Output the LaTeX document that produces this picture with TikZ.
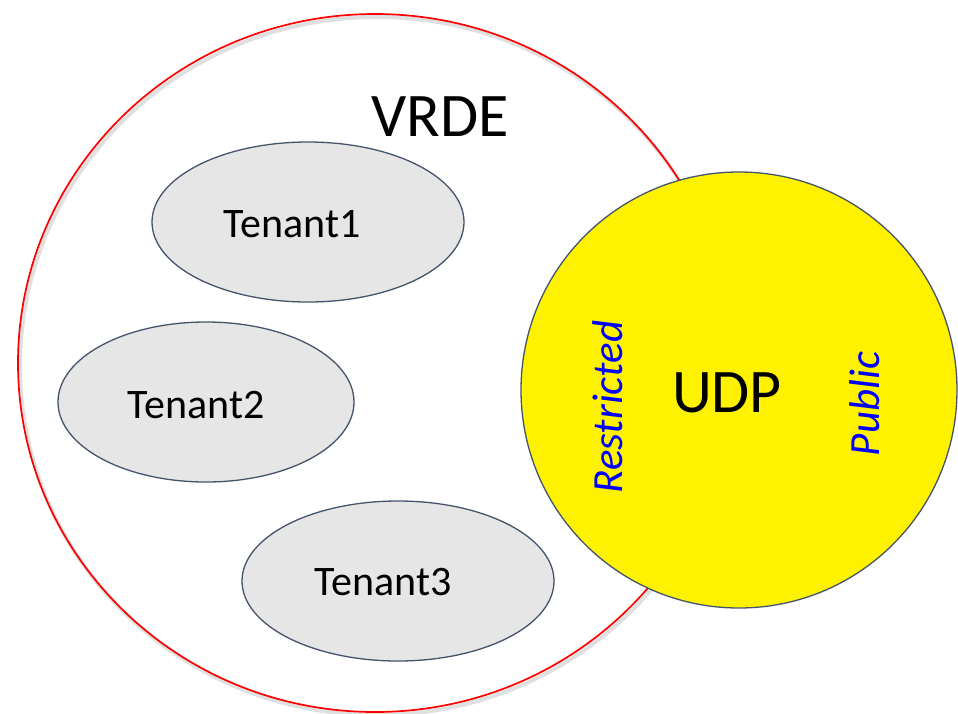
\documentclass[tikz,border=0pt]{standalone}
\usepackage{fontspec}
\setmainfont{Carlito}
\definecolor{edge}{HTML}{44546A}
\definecolor{tfill}{HTML}{E7E6E6}
\begin{document}
\begin{tikzpicture}[x=1pt,y=-1pt,
  tenant/.style={draw=edge, line width=1.3pt, fill=tfill},
  lbl/.style={font=\fontsize{42}{48}\selectfont},
  big/.style={font=\fontsize{62}{68}\selectfont},
  side/.style={font=\fontsize{43}{48}\selectfont\itshape, text=blue, rotate=90}]
\useasboundingbox (0,0) rectangle (958,713);
\fill[white] (0,0) rectangle (958,713);
\draw[black!12, line width=4pt] (377,366) ellipse [x radius=357, y radius=349];
\draw[red, line width=1.7pt] (375,363) ellipse [x radius=357, y radius=349];
\draw[tenant] (308,222) ellipse [x radius=156, y radius=80];
\draw[tenant] (206,402) ellipse [x radius=148, y radius=80];
\draw[tenant] (398,581) ellipse [x radius=156, y radius=80];
\draw[edge, line width=1.3pt, fill=yellow] (739,390) circle [radius=218];
\node[big] (vrde) at (440,117) {VRDE};
\node[lbl] (t1) at (292,224) {Tenant1};
\node[lbl] (t2) at (196,405) {Tenant2};
\node[lbl] (t3) at (383,582) {Tenant3};
\node[big] (udp) at (727,393) {UDP};
\node[side] (res) at (608,407) {Restricted};
\node[side] (pub) at (865,404) {Public};
\end{tikzpicture}
\end{document}
